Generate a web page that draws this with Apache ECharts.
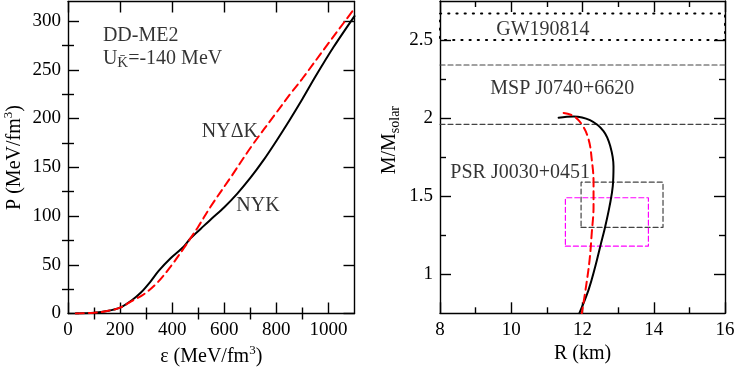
<!DOCTYPE html>
<html><head><meta charset="utf-8">
<script src="https://cdn.jsdelivr.net/npm/echarts@6/dist/echarts.min.js"></script>
<style>html,body{margin:0;padding:0;background:#fff}#c{width:736px;height:367px}</style>
</head><body><div id="c"></div>
<script>
// ---- tick values ----
const epsMajor=[0,200,400,600,800,1000];
const epsMinor=[100,300,500,700,900];
const pMajor=[0,50,100,150,200,250,300];
const pMinor=[25,75,125,175,225,275];
const rMajor=[8,10,12,14,16];
const rMinor=[9,11,13,15];
const mMajor=[1,1.5,2,2.5];
const mMinor=[1.25,1.75,2.25];

// ---- EOS: energy density (MeV/fm^3) vs pressure (MeV/fm^3) ----
const nykEOS=[[30,0],[100,0.8],[150,2.5],[200,6],[245,13.6],[280,21.5],[316,32.5],[348,43.7],[393,56.4],[444,68.4],[470,77],[510,87],[550,97],[600,109],[650,123],[700,139],[750,157],[800,177],[850,198],[900,220],[950,243],[1019,273],[1100,305]];
const nydkEOS=[[30,0],[100,0.8],[150,2.5],[200,6],[250,13.5],[290,19.5],[342,31.4],[393,47.8],[444,66.7],[470,77],[500,89],[546,109],[623,139],[706,172],[800,206],[853,225],[900,241],[994,275],[1064,300],[1100,313]];

// ---- M-R: radius (km) vs mass (M_solar) ----
const nykMR=[[11.33,2.003],[11.75,2.011],[12.21,1.987],[12.59,1.917],[12.78,1.82],[12.87,1.69],[12.85,1.564],[12.76,1.436],[12.64,1.308],[12.50,1.18],[12.36,1.051],[12.17,0.90],[11.91,0.75]];
const nydkMR=[[11.47,2.033],[11.75,2.013],[11.98,1.96],[12.17,1.864],[12.26,1.735],[12.31,1.586],[12.31,1.436],[12.26,1.265],[12.20,1.094],[12.10,0.923],[11.98,0.75]];

// ---- observational constraints ----
const rSpan=[8,16];
const gwBand=[2.50,2.67];
const mspBand=[1.96,2.34];
const millerR=[11.96,14.26], millerM=[1.30,1.59];
const rileyR=[11.52,13.85], rileyM=[1.18,1.49];

const FONT='"Liberation Serif","Times New Roman",serif';
function box(r,m){return [[r[0],m[0]],[r[1],m[0]],[r[1],m[1]],[r[0],m[1]],[r[0],m[0]]];}

function axes(grid,pos,min,max,major,minor,lblSize,name,nameGap,nameStyle){
  const base={type:'value',gridIndex:grid,position:pos,min:min,max:max,splitLine:{show:false},axisPointer:{show:false}};
  const showLbl=(pos==='bottom'||pos==='left');
  return [
    Object.assign({},base,{
      axisLine:{show:true,onZero:false,lineStyle:{color:'#000',width:1.4}},
      axisTick:{show:true,inside:true,length:11,customValues:major,lineStyle:{color:'#000',width:1.4}},
      axisLabel:{show:showLbl,customValues:major,fontSize:lblSize,fontFamily:FONT,color:'#000',margin:7,formatter:function(v){return String(v);}},
      name:showLbl?name:'',nameLocation:'middle',nameGap:nameGap,nameTextStyle:nameStyle
    }),
    Object.assign({},base,{
      axisLine:{show:false},
      axisTick:{show:true,inside:true,length:6,customValues:minor,lineStyle:{color:'#000',width:1.4}},
      axisLabel:{show:false}
    })
  ];
}
const nm={fontSize:20,fontFamily:FONT,color:'#000'};
const richSup={
  n:{fontSize:20,fontFamily:FONT,color:'#000'},
  s:{fontSize:13,fontFamily:FONT,color:'#000',padding:[0,0,12,0]},
  b:{fontSize:14,fontFamily:FONT,color:'#000',padding:[10,0,0,0]},
  k:{fontSize:15,fontFamily:FONT,color:'#000',padding:[9,0,0,0]}
};
const nameStyleRich=Object.assign({},nm,{rich:richSup});

const xAxis=[].concat(
  axes(0,'bottom',0,1100,epsMajor,epsMinor,19,'{n|ε (MeV/fm}{s|3}{n|)}',28,nameStyleRich),
  axes(0,'top',0,1100,epsMajor,epsMinor,19,'',0,nm),
  axes(1,'bottom',8,16,rMajor,rMinor,19,'{n|R (km)}',24,nameStyleRich),
  axes(1,'top',8,16,rMajor,rMinor,19,'',0,nm)
);
const yAxis=[].concat(
  axes(0,'left',0,320,pMajor,pMinor,19,'{n|P (MeV/fm}{s|3}{n|)}',41,nameStyleRich),
  axes(0,'right',0,320,pMajor,pMinor,19,'',0,nm),
  axes(1,'left',0.75,2.75,mMajor,mMinor,19,'{n|M/M}{b|solar}',38,Object.assign({},nameStyleRich,{padding:[0,0,0,34]})),
  axes(1,'right',0.75,2.75,mMajor,mMinor,19,'',0,nm)
);

function note(xi,yi,pt,text){
  return {type:'scatter',xAxisIndex:xi,yAxisIndex:yi,symbolSize:0,silent:true,z:10,data:[pt],
    label:{show:true,position:'right',distance:0,formatter:text,fontSize:20,fontFamily:FONT,color:'#000',rich:richSup}};
}
function ln(xi,yi,data,color,width,type,smooth){
  return {type:'line',xAxisIndex:xi,yAxisIndex:yi,data:data,smooth:smooth||false,showSymbol:false,symbol:'none',silent:true,
    lineStyle:{color:color,width:width,type:type,cap:'round'}};
}

const series=[
  ln(0,0,nykEOS,'#000',2,'solid',0.3),
  ln(0,0,nydkEOS,'#ff0000',2,[8,5],0.35),
  ln(4,4,[[rSpan[0],gwBand[1]],[rSpan[1],gwBand[1]],[rSpan[1],gwBand[0]],[rSpan[0],gwBand[0]],[rSpan[0],gwBand[1]]],'#000',2,[1.2,7],false),
  ln(4,4,[[rSpan[0],mspBand[1]],[rSpan[1],mspBand[1]]],'#444',1.2,[5,3],false),
  ln(4,4,[[rSpan[0],mspBand[0]],[rSpan[1],mspBand[0]]],'#444',1.2,[5,3],false),
  ln(4,4,box(millerR,millerM),'#444',1.2,[5,3],false),
  ln(4,4,box(rileyR,rileyM),'#ff00ff',1.2,[5,3],false),
  ln(4,4,nykMR,'#000',2,'solid',0.4),
  ln(4,4,nydkMR,'#ff0000',2,[8,5],0.4),
  note(0,0,[134,284.6],'{n|DD-ME2}'),
  note(0,0,[134,261.5],'{n|U}{k|K̄}{n|=-140 MeV}'),
  note(0,0,[514,186.4],'{n|NYΔK}'),
  note(0,0,[646,111],'{n|NYK}'),
  note(4,4,[9.58,2.569],'{n|GW190814}'),
  note(4,4,[9.41,2.19],'{n|MSP J0740+6620}'),
  note(4,4,[8.29,1.65],'{n|PSR J0030+0451}')
];

const chart=echarts.init(document.getElementById('c'),null,{renderer:'canvas'});
chart.setOption({
  animation:false,
  backgroundColor:'#fff',
  grid:[
    {left:68,top:1.5,width:286.5,height:312,containLabel:false,outerBoundsMode:'none'},
    {left:440,top:1,width:285,height:312.3,containLabel:false,outerBoundsMode:'none'}
  ],
  xAxis:xAxis,
  yAxis:yAxis,
  series:series
});
</script>
</body></html>
